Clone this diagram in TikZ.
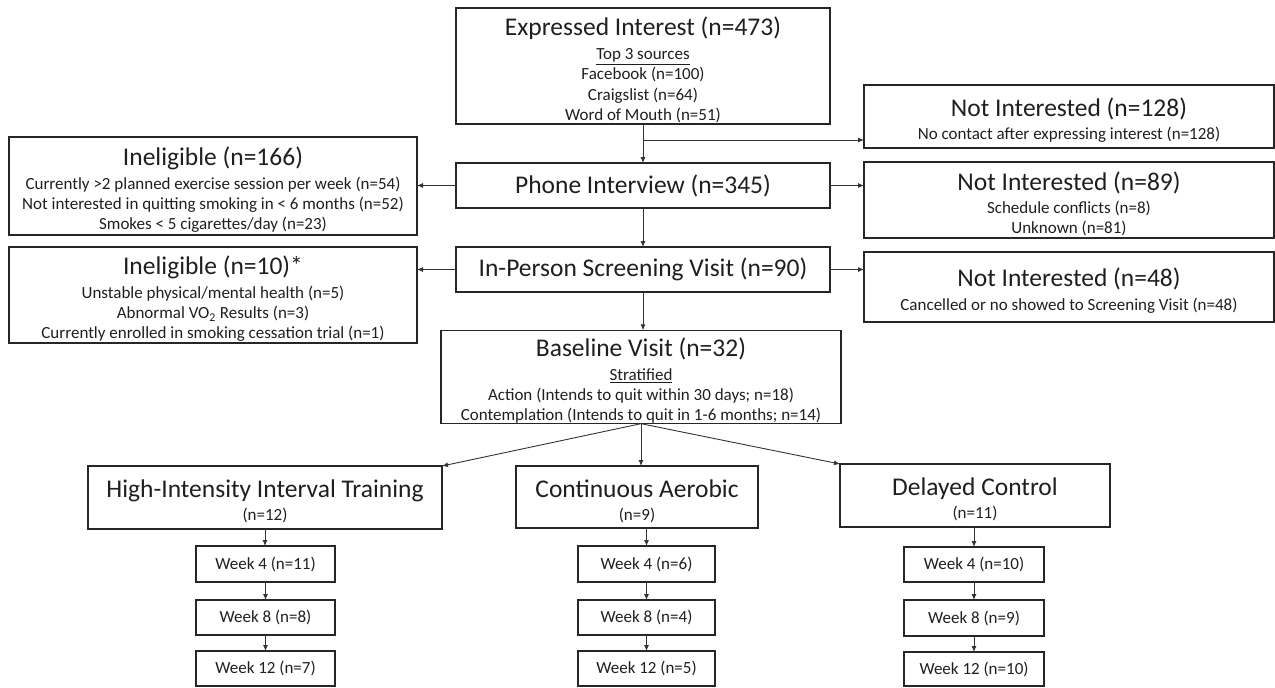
\documentclass[tikz,border=0pt]{standalone}
\usepackage{fontspec}
\setmainfont{Carlito}
\usetikzlibrary{arrows.meta}
\newcommand{\tfont}{\fontsize{25.5}{24}\selectfont}
\newcommand{\sfont}{\fontsize{17}{20.2}\selectfont}
\newcommand{\wfont}{\fontsize{17}{20}\selectfont}
\newcommand{\tstrut}{\rule{0pt}{26pt}}
\begin{document}
\begin{tikzpicture}[x=1pt,y=-1pt,
  box/.style={draw=black!85, line width=1.4pt, inner sep=0pt, outer sep=0pt, align=center,
    text=black!88, font=\sfont, minimum width=#1},
  arr/.style={draw=black!80, line width=0.9pt, -{Latex[length=6pt,width=5pt]}}]
\useasboundingbox (0,0) rectangle (1275,688);

\node[box=374pt, minimum height=116pt] (ei) at (643,66)
  {{\tfont\tstrut Expressed Interest (n=473)}\\[4pt]\underline{Top 3 sources}\\Facebook (n=100)\\Craigslist (n=64)\\Word of Mouth (n=51)};
\node[box=410pt, minimum height=63pt] (ni1) at (1069,116.5)
  {{\tfont\tstrut Not Interested (n=128)}\\[3pt]No contact after expressing interest (n=128)};
\node[box=374pt, minimum height=45pt] (pi) at (643,185.5) {\tfont Phone Interview (n=345)};
\node[box=410pt, minimum height=76pt] (ni2) at (1069,200)
  {{\tfont\tstrut Not Interested (n=89)}\\[3pt]Schedule conflicts (n=8)\\Unknown (n=81)};
\node[box=408pt, minimum height=98pt] (ie1) at (213,186)
  {{\tfont\tstrut Ineligible (n=166)}\\[4pt]Currently >2 planned exercise session per week (n=54)\\Not interested in quitting smoking in < 6 months (n=52)\\Smokes < 5 cigarettes/day (n=23)};
\node[box=408pt, minimum height=96pt] (ie2) at (213,295)
  {{\tfont\tstrut Ineligible (n=10)*}\\[4pt]Unstable physical/mental health (n=5)\\Abnormal VO\textsubscript{2} Results (n=3)\\Currently enrolled in smoking cessation trial (n=1)};
\node[box=374pt, minimum height=45pt] (ip) at (643,269.5) {\tfont In-Person Screening Visit (n=90)};
\node[box=410pt, minimum height=70pt] (ni3) at (1069,287)
  {{\tfont\tstrut Not Interested (n=48)}\\[3pt]Cancelled or no showed to Screening Visit (n=48)};
\node[box=400pt, minimum height=90pt] (bv) at (641,377)
  {{\tfont\tstrut Baseline Visit (n=32)}\\[4pt]\underline{Stratified}\\Action (Intends to quit within 30 days; n=18)\\Contemplation (Intends to quit in 1-6 months; n=14)};

\node[box=354pt, minimum height=63pt] (hiit) at (265,497.5)
  {{\tfont\tstrut High-Intensity Interval Training}\\[3pt]{\wfont (n=12)}};
\node[box=242pt, minimum height=62pt] (ca) at (637,497)
  {{\tfont\tstrut Continuous Aerobic}\\[3pt]{\wfont (n=9)}};
\node[box=270pt, minimum height=63pt] (dc) at (975,495.5)
  {{\tfont\tstrut Delayed Control}\\[3pt]{\wfont (n=11)}};

\node[box=139pt, minimum height=36pt, font=\wfont] (hw4) at (265.5,564) {Week 4 (n=11)};
\node[box=139pt, minimum height=35pt, font=\wfont] (hw8) at (265.5,617.5) {Week 8 (n=8)};
\node[box=139pt, minimum height=35pt, font=\wfont] (hw12) at (265.5,668.5) {Week 12 (n=7)};
\node[box=137pt, minimum height=36pt, font=\wfont] (cw4) at (646.5,564) {Week 4 (n=6)};
\node[box=137pt, minimum height=35pt, font=\wfont] (cw8) at (646.5,617.5) {Week 8 (n=4)};
\node[box=137pt, minimum height=35pt, font=\wfont] (cw12) at (646.5,668.5) {Week 12 (n=5)};
\node[box=140pt, minimum height=35pt, font=\wfont] (dw4) at (974,564.5) {Week 4 (n=10)};
\node[box=140pt, minimum height=36pt, font=\wfont] (dw8) at (974,618) {Week 8 (n=9)};
\node[box=140pt, minimum height=34pt, font=\wfont] (dw12) at (974,669) {Week 12 (n=10)};

\coordinate (br) at (643,140);
\draw[arr] (ei.south) -- (pi.north);
\draw[arr] (br) -- (br -| ni1.west);
\draw[arr] (pi.west) -- (pi.west -| ie1.east);
\draw[arr] (pi.east) -- (pi.east -| ni2.west);
\draw[arr] (pi.south) -- (ip.north);
\draw[arr] (ip.west) -- (ip.west -| ie2.east);
\draw[arr] (ip.east) -- (ip.east -| ni3.west);
\draw[arr] (ip.south) -- (ip.south |- bv.north);
\draw[arr] (bv.south) -- (hiit.north east);
\draw[arr] (bv.south) -- (bv.south |- ca.north);
\draw[arr] (bv.south) -- (dc.north west);
\draw[arr] (hiit.south) -- (hiit.south |- hw4.north);
\draw[arr] (hw4.south) -- (hw8.north);
\draw[arr] (hw8.south) -- (hw12.north);
\draw[arr] (ca.south -| cw4.north) -- (cw4.north);
\draw[arr] (cw4.south) -- (cw8.north);
\draw[arr] (cw8.south) -- (cw12.north);
\draw[arr] (dc.south -| dw4.north) -- (dw4.north);
\draw[arr] (dw4.south) -- (dw8.north);
\draw[arr] (dw8.south) -- (dw12.north);
\end{tikzpicture}
\end{document}
